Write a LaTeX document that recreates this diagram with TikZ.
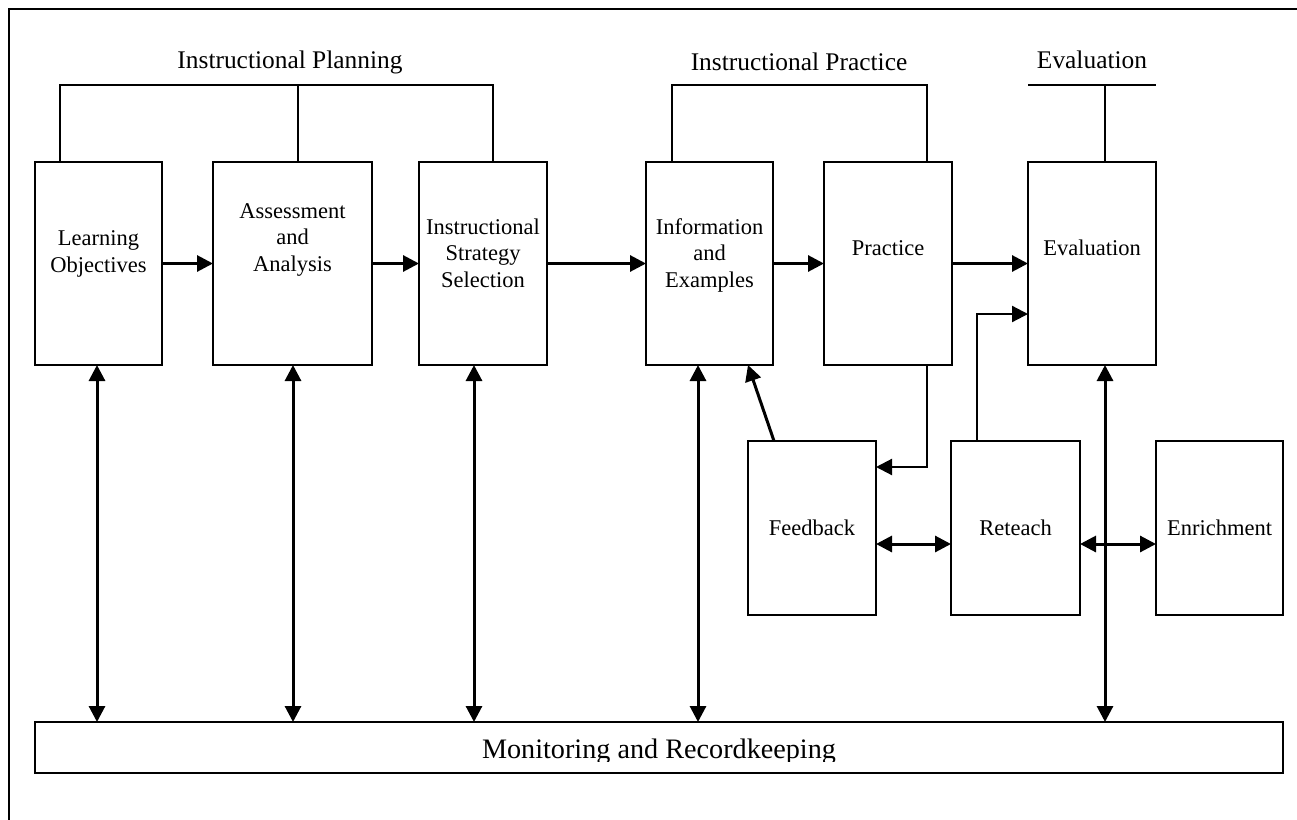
\documentclass[tikz,border=0pt]{standalone}
\usepackage{fontspec}
\setmainfont{Liberation Serif}
\usetikzlibrary{arrows.meta}
\begin{document}
\begin{tikzpicture}[x=1pt,y=-1pt,
  box/.style={draw, line width=2pt, anchor=north west, inner sep=0pt, outer sep=0pt},
  lbl/.style={font=\fontsize{22.5}{26.5}\selectfont, align=center, inner sep=0pt, anchor=base},
  head/.style={font=\fontsize{25.4}{30}\selectfont, inner sep=0pt, anchor=base},
  brk/.style={line width=2pt},
  arr/.style={line width=3pt, -{Triangle[length=16pt,width=16pt]}},
  dbl/.style={line width=3pt, {Triangle[length=16pt,width=16pt]}-{Triangle[length=16pt,width=16pt]}}]

% page area and outer frame
\clip (0,0) rectangle (1297,819);
\fill[white] (0,0) rectangle (1297,819);
\draw[line width=2pt] (9,9) rectangle (1320,840);

% upper row of stages
\node[box, minimum width=127pt, minimum height=203pt] (lo)  at (35,162)   {};
\node[box, minimum width=159pt, minimum height=203pt] (aa)  at (213,162)  {};
\node[box, minimum width=128pt, minimum height=203pt] (iss) at (419,162)  {};
\node[box, minimum width=127pt, minimum height=203pt] (ie)  at (646,162)  {};
\node[box, minimum width=128pt, minimum height=203pt] (pr)  at (824,162)  {};
\node[box, minimum width=128pt, minimum height=203pt] (ev)  at (1028,162) {};

% lower row
\node[box, minimum width=128pt, minimum height=174pt] (fb) at (748,441)  {};
\node[box, minimum width=129pt, minimum height=174pt] (rt) at (951,441)  {};
\node[box, minimum width=127pt, minimum height=174pt] (en) at (1156,441) {};

% monitoring bar
\node[box, minimum width=1248pt, minimum height=51pt] (mon) at (35,722) {};

% box labels (anchored at the baseline of the last line)
\node[lbl] (lot)  at (98.5,272) {Learning\\Objectives};
\node[lbl] (aat)  at (292.5,271) {Assessment\\and\\Analysis};
\node[lbl] (isst) at (483,287) {Instructional\\Strategy\\Selection};
\node[lbl] (iet)  at (709.5,287) {Information\\and\\Examples};
\node[lbl] (prt)  at (888,255) {Practice};
\node[lbl] (evt)  at (1092,255) {Evaluation};
\node[lbl] (fbt)  at (812,535) {Feedback};
\node[lbl] (rtt)  at (1015.5,535) {Reteach};
\node[lbl] (ent)  at (1219.5,535) {Enrichment};

\begin{scope}
  \clip (mon.north west) rectangle ([yshift=12pt]mon.south east);
  \node[head, font=\fontsize{28.2}{32}\selectfont] (mont) at (659,758) {Monitoring and Recordkeeping};
\end{scope}

% phase headings and brackets
\node[head] (hpl) at (290,68) {Instructional Planning};
\node[head] (hpr) at (799,70) {Instructional Practice};
\node[head] (hev) at (1092,68) {Evaluation};

\coordinate (plbar) at (298,85);
\coordinate (prbar) at (800,85);
\coordinate (evbar) at (1105,85);

\draw[brk] ([xshift=-38.5pt]lo.north) |- (plbar) -| ([xshift=10pt]iss.north);
\draw[brk] ([xshift=5.5pt]aa.north) -- ([xshift=5.5pt]aa.north |- plbar);
\draw[brk] ([xshift=-37.5pt]ie.north) |- (prbar) -| ([xshift=39pt]pr.north);
\draw[brk] (ev.north west |- evbar) -- (ev.north east |- evbar);
\draw[brk] ([xshift=13pt]ev.north) -- ([xshift=13pt]ev.north |- evbar);

% main sequence
\draw[arr] (lo.east) -- (aa.west);
\draw[arr] (aa.east) -- (iss.west);
\draw[arr] (iss.east) -- (ie.west);
\draw[arr] (ie.east) -- (pr.west);
\draw[arr] (pr.east) -- (ev.west);

% links to monitoring
\draw[dbl] ([xshift=-1.5pt]lo.south) -- ([xshift=-1.5pt]lo.south |- mon.north);
\draw[dbl] ([xshift=0.5pt]aa.south) -- ([xshift=0.5pt]aa.south |- mon.north);
\draw[dbl] ([xshift=-9pt]iss.south) -- ([xshift=-9pt]iss.south |- mon.north);
\draw[dbl] ([xshift=-11.5pt]ie.south) -- ([xshift=-11.5pt]ie.south |- mon.north);
\draw[dbl] ([xshift=13pt]ev.south) -- ([xshift=13pt]ev.south |- mon.north);

% feedback loop and remediation
\draw[arr] ([xshift=-38pt]fb.north) -- ([xshift=38.5pt]ie.south);
\draw[arr, line width=2.2pt] ([xshift=39pt]pr.south) |- ([yshift=61pt]fb.east);
\draw[arr, line width=2.2pt] ([xshift=-38.5pt]rt.north) |- ([yshift=-50.5pt]ev.west);
\draw[dbl] ([yshift=-16pt]fb.east) -- ([yshift=-16pt]rt.west);
\draw[dbl] ([yshift=-16pt]rt.east) -- ([yshift=-16pt]en.west);
\end{tikzpicture}
\end{document}
